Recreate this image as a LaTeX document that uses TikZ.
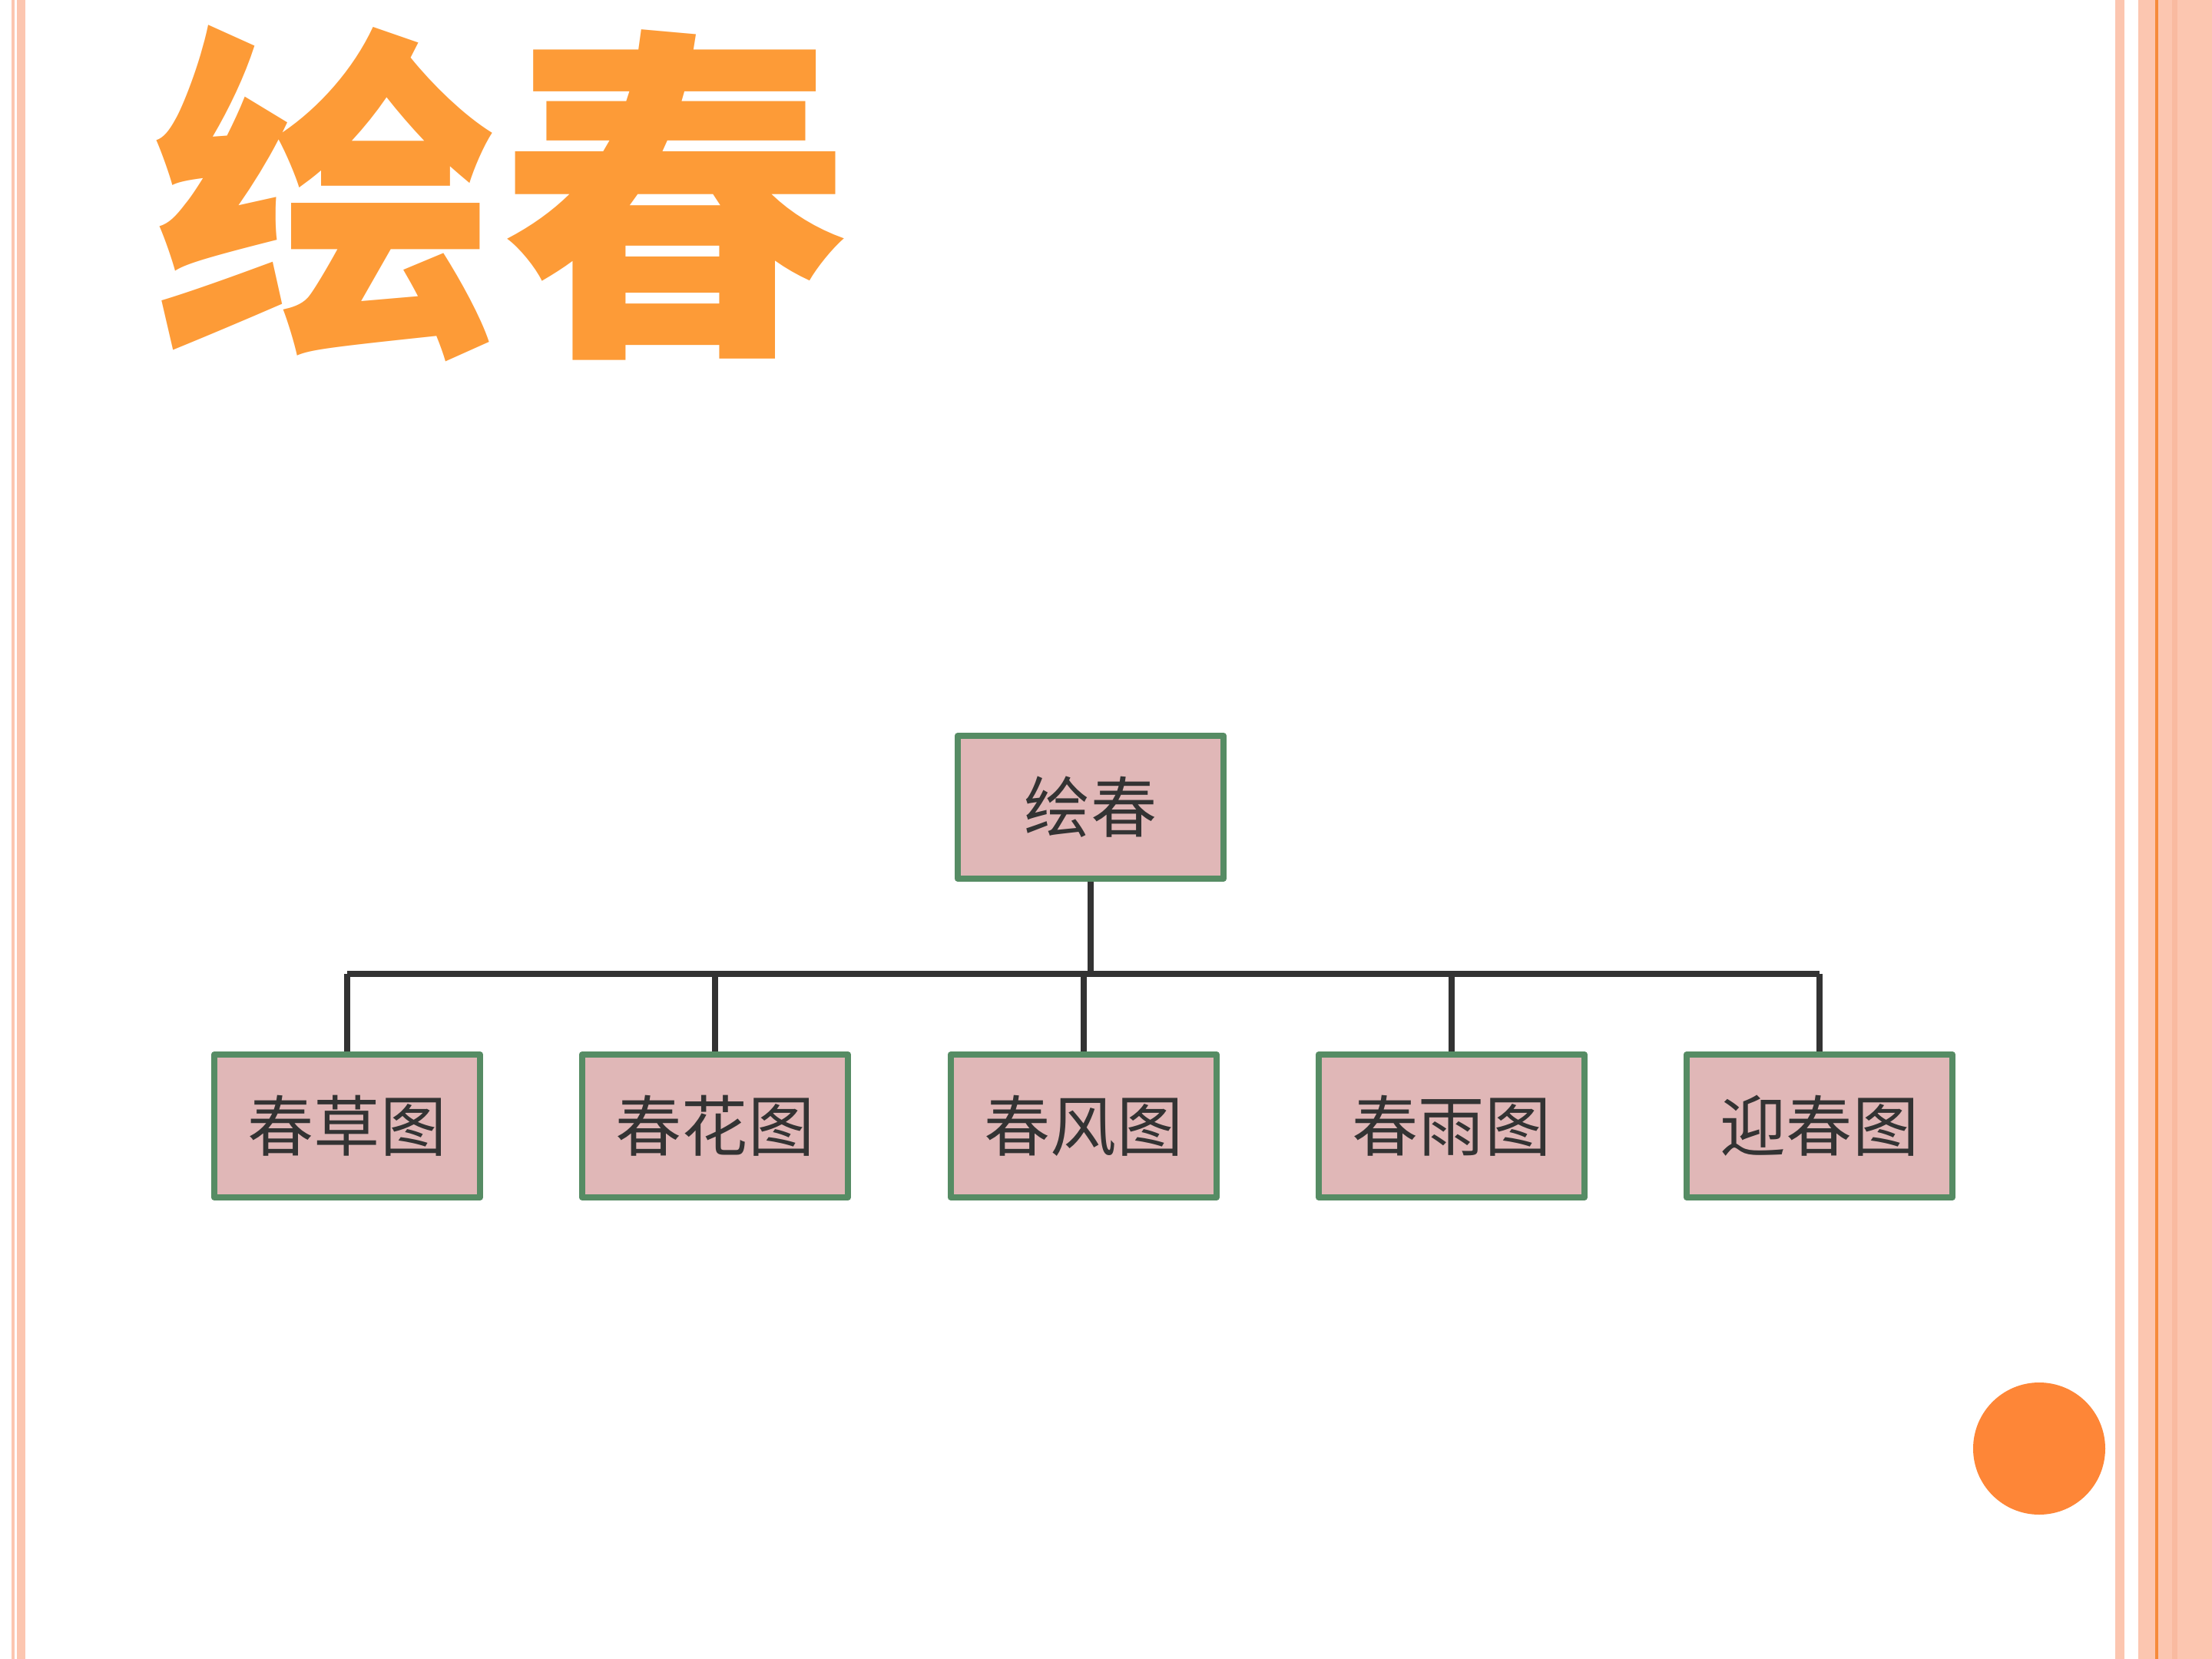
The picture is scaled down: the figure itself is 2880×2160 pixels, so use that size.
\documentclass[tikz,border=0pt]{standalone}
\usepackage{fontspec}
\usepackage{tikz}
\usetikzlibrary{positioning}
\newfontfamily\cjk{Noto Sans CJK SC}
\definecolor{tStripe}{RGB}{252,198,176}
\definecolor{tBand}{RGB}{249,186,160}
\definecolor{tLine}{RGB}{246,138,58}
\definecolor{tDot}{RGB}{254,134,55}
\definecolor{tTitle}{RGB}{253,155,55}
\definecolor{tFill}{RGB}{224,183,183}
\definecolor{tBorder}{RGB}{86,140,100}
\definecolor{tText}{RGB}{51,51,51}

\begin{document}
\begin{tikzpicture}[x=0.01cm,y=-0.01cm,
    box/.style={draw=tBorder, fill=tFill, line width=0.08cm, line join=round,
        minimum width=3.46cm, minimum height=1.86cm, inner sep=0pt,
        text=tText, font=\cjk\fontsize{24.5}{24.5}\selectfont},
    link/.style={draw=tText, line width=0.08cm}]
    \fill[white] (0,0) rectangle (2880,2160);
    \useasboundingbox (0,0) rectangle (2880,2160);

    \fill[tStripe] (15,0) rectangle (19,2160);
    \fill[tStripe] (22,0) rectangle (33,2160);
    \fill[tStripe] (2754,0) rectangle (2766,2160);
    \fill[tStripe] (2784,0) rectangle (2880,2160);
    \fill[tBand] (2828,0) rectangle (2835,2160);
    \fill[tLine] (2806,0) rectangle (2810,2160);
    \fill[tDot] (2655,1886) circle (86);

    \node[text=tTitle, font=\cjk\bfseries\fontsize{129}{129}\selectfont] (title) at (652,252) {绘春};

    \node[box] (root) at (1420,1051) {绘春};
    \node[box] (grass) at (452,1466) {春草图};
    \node[box] (flower) at (931,1466) {春花图};
    \node[box] (wind) at (1411,1466) {春风图};
    \node[box] (rain) at (1890,1466) {春雨图};
    \node[box] (greet) at (2369,1466) {迎春图};
    \coordinate (bus) at (1420,1268);

    \draw[link] (root.south) -- (root.south |- bus);
    \draw[link] (grass.north |- bus) -- (greet.north |- bus);
    \foreach \child in {grass,flower,wind,rain,greet}
        \draw[link] (\child.north) -- (\child.north |- bus);
\end{tikzpicture}
\end{document}
